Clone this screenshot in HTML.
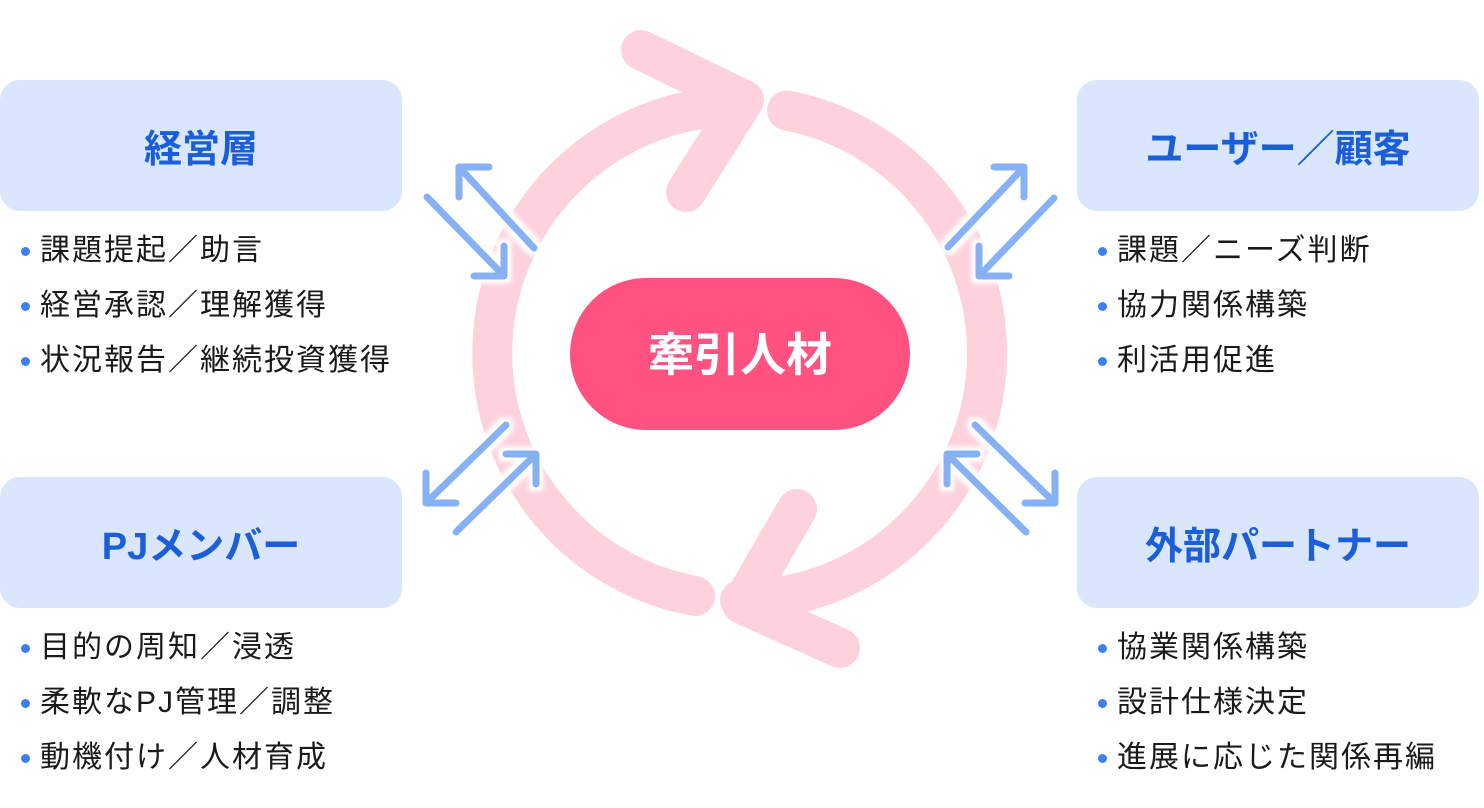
<!DOCTYPE html>
<html><head><meta charset="utf-8"><style>
html,body{margin:0;padding:0;background:#fff;}
body{width:1484px;height:808px;position:relative;overflow:hidden;font-family:"Liberation Sans","Noto Sans CJK JP",sans-serif;}
.box{position:absolute;width:402px;height:131px;background:#d9e6fb;border-radius:20px;display:flex;align-items:center;justify-content:center;color:#1a5fd9;font-weight:bold;font-size:38px;}
ul{position:absolute;margin:0;padding:0;list-style:none;}
li{position:relative;padding-left:19px;font-size:30px;letter-spacing:2px;line-height:55px;height:55px;color:#1a1a1a;white-space:nowrap;}
li:before{content:"";position:absolute;left:0;top:24px;width:9px;height:9px;border-radius:50%;background:#3d80ef;}
svg{position:absolute;left:0;top:0;}
</style></head><body>
<svg width="1484" height="808" viewBox="0 0 1484 808">
<defs><filter id="g" x="-20%" y="-20%" width="140%" height="140%"><feMorphology in="SourceAlpha" operator="dilate" radius="4" result="d"/><feGaussianBlur in="d" stdDeviation="2" result="b"/><feFlood flood-color="#fff"/><feComposite in2="b" operator="in" result="w"/><feMerge><feMergeNode in="w"/><feMergeNode in="SourceGraphic"/></feMerge></filter></defs>
<g fill="none" stroke="#fdd2dd" stroke-width="40" stroke-linecap="round" stroke-linejoin="round">
<path d="M695 596 A247 247 0 0 1 740 106"/>
<polyline points="641,50 744,100 686,192"/>
<path d="M787 110.5 A247 247 0 0 1 740 600"/>
<polyline points="797,509 742,604 840,648"/>
</g>
<rect x="570" y="278" width="340" height="152" rx="76" fill="#ff5280"/>
<text x="740" y="371" text-anchor="middle" fill="#fff" font-size="46" font-weight="bold" font-family="Liberation Sans,Noto Sans CJK JP,sans-serif">牽引人材</text>
<g fill="none" stroke="#86b2f5" stroke-width="7" stroke-linecap="round" stroke-linejoin="round" filter="url(#g)">
<path d="M534 248 L459 167 M459 197 L459 167 L489 167"/>
<path d="M427 197 L504 276 M474 276 L504 276 L504 246"/>
<path d="M948 247 L1024 167 M994 167 L1024 167 L1024 197"/>
<path d="M1054 198 L979 276 M979 246 L979 276 L1009 276"/>
<path d="M506 425 L426 503 M426 473 L426 503 L456 503"/>
<path d="M456 532 L536 454 M506 454 L536 454 L536 484"/>
<path d="M975 425 L1055 503 M1025 503 L1055 503 L1055 473"/>
<path d="M1026 532 L947 454 M947 484 L947 454 L977 454"/>
</g>
</svg>
<div class="box" style="left:0;top:80px;">経営層</div>
<div class="box" style="left:0;top:477px;">PJメンバー</div>
<div class="box" style="left:1077px;top:80px;">ユーザー／顧客</div>
<div class="box" style="left:1077px;top:477px;">外部パートナー</div>
<ul style="left:21px;top:223px;"><li>課題提起／助言</li><li>経営承認／理解獲得</li><li>状況報告／継続投資獲得</li></ul>
<ul style="left:21px;top:620px;"><li>目的の周知／浸透</li><li>柔軟なPJ管理／調整</li><li>動機付け／人材育成</li></ul>
<ul style="left:1098px;top:223px;"><li>課題／ニーズ判断</li><li>協力関係構築</li><li>利活用促進</li></ul>
<ul style="left:1098px;top:620px;"><li>協業関係構築</li><li>設計仕様決定</li><li>進展に応じた関係再編</li></ul>
</body></html>
